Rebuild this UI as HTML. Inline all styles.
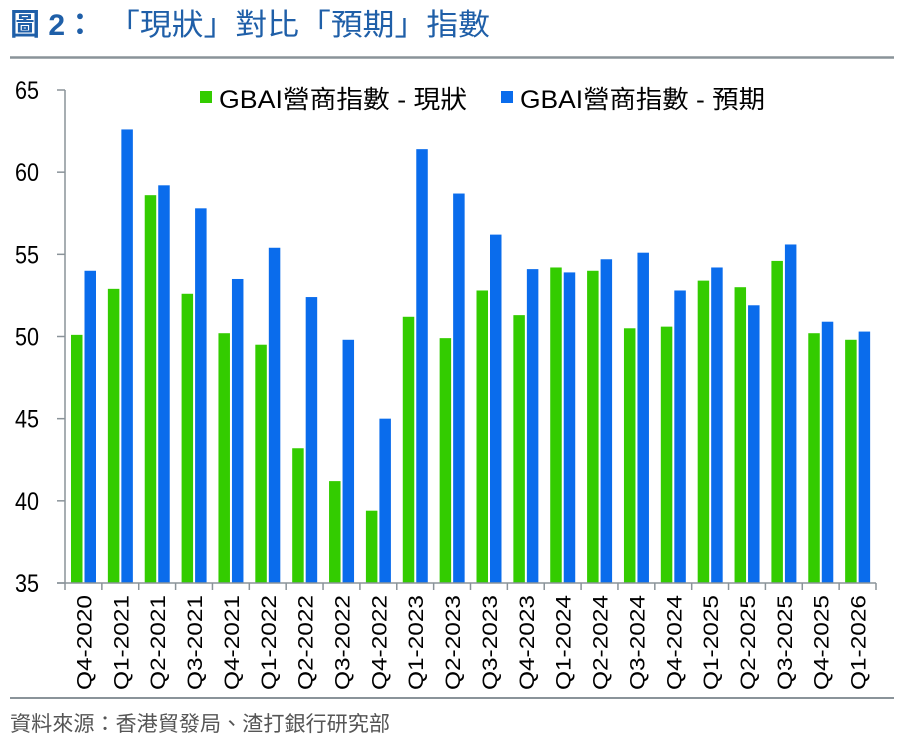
<!DOCTYPE html>
<html><head><meta charset="utf-8"><style>
body{margin:0;background:#fff;width:902px;height:748px;overflow:hidden;font-family:"Liberation Sans","Noto Sans CJK TC",sans-serif}
</style></head><body>
<svg width="902" height="748" font-family="Liberation Sans, Noto Sans CJK TC, sans-serif">
<text x="10" y="35" font-size="30" fill="#1f5fa8" font-weight="bold">圖 2：<tspan x="108" font-weight="normal" textLength="382" lengthAdjust="spacingAndGlyphs">「現狀」對比「預期」指數</tspan></text>
<line x1="10" y1="57.5" x2="894" y2="57.5" stroke="#8a9399" stroke-width="2.5"/>
<line x1="10" y1="698" x2="894" y2="698" stroke="#8a9399" stroke-width="2"/>
<text x="10" y="731" font-size="21" fill="#555" textLength="380" lengthAdjust="spacingAndGlyphs">資料來源：香港貿發局、渣打銀行研究部</text>
<g id="legend">
<rect x="200" y="91" width="12" height="12" fill="#33cc00"/>
<text x="219" y="108" font-size="25" fill="#000" textLength="248" lengthAdjust="spacingAndGlyphs">GBAI營商指數 - 現狀</text>
<rect x="501" y="91" width="12" height="12" fill="#0a6cec"/>
<text x="520" y="108" font-size="25" fill="#000" textLength="245" lengthAdjust="spacingAndGlyphs">GBAI營商指數 - 預期</text>
</g>
<g id="plot"></g>
</svg>
<script>
const categories=["Q4-2020","Q1-2021","Q2-2021","Q3-2021","Q4-2021","Q1-2022","Q2-2022","Q3-2022","Q4-2022","Q1-2023","Q2-2023","Q3-2023","Q4-2023","Q1-2024","Q2-2024","Q3-2024","Q4-2024","Q1-2025","Q2-2025","Q3-2025","Q4-2025","Q1-2026"];
const currentValues=[50.1,52.9,58.6,52.6,50.2,49.5,43.2,41.2,39.4,51.2,49.9,52.8,51.3,54.2,54.0,50.5,50.6,53.4,53.0,54.6,50.2,49.8];
const expectedValues=[54.0,62.6,59.2,57.8,53.5,55.4,52.4,49.8,45.0,61.4,58.7,56.2,54.1,53.9,54.7,55.1,52.8,54.2,51.9,55.6,50.9,50.3];
const yTicks=[35,40,45,50,55,60,65];
const NS="http://www.w3.org/2000/svg";
const g=document.getElementById('plot');
const x0=65,x1=876,yTop=90,yBot=583,yMin=35,yMax=65;
const y=v=>yBot-(v-yMin)/(yMax-yMin)*(yBot-yTop);
const step=(x1-x0)/categories.length;
function mk(t,a){const e=document.createElementNS(NS,t);for(const k in a)e.setAttribute(k,a[k]);g.appendChild(e);return e;}
categories.forEach((c,i)=>{
 const gx=x0+i*step;
 const r1=mk('rect',{x:gx+6,y:y(currentValues[i]),width:11.5,height:yBot-y(currentValues[i]),fill:'#33cc00'});
 
 
 const r2=mk('rect',{x:gx+19.5,y:y(expectedValues[i]),width:11.5,height:yBot-y(expectedValues[i]),fill:'#0a6cec'});
 
 
 const tk=mk('line',{x1:gx,y1:yBot,x2:gx,y2:yBot+7,stroke:'#8a9399','stroke-width':1.5});
 
 
 const cx=gx+step/2+8;
 const t=mk('text',{x:0,y:0,'font-size':21,'text-anchor':'end',textLength:95,lengthAdjust:'spacingAndGlyphs',transform:`translate(${cx},595) rotate(-90)`,fill:'#000'});
 t.textContent=c;
 
 
});
const lt=mk('line',{x1:x1,y1:yBot,x2:x1,y2:yBot+7,stroke:'#8a9399','stroke-width':1.5});


yTicks.forEach(v=>{
 const l=mk('line',{x1:x0-8,y1:y(v),x2:x0,y2:y(v),stroke:'#8a9399','stroke-width':1.5});
 
 
 const t=mk('text',{x:15,y:y(v)+9,'font-size':25,textLength:24,lengthAdjust:'spacingAndGlyphs',fill:'#000'});
 t.textContent=v;
 
 
});
const ya=mk('line',{x1:x0,y1:yTop,x2:x0,y2:yBot,stroke:'#8a9399','stroke-width':1.5});


const xa=mk('line',{x1:x0-8,y1:yBot,x2:x1,y2:yBot,stroke:'#8a9399','stroke-width':1.5});


</script>
</body></html>
